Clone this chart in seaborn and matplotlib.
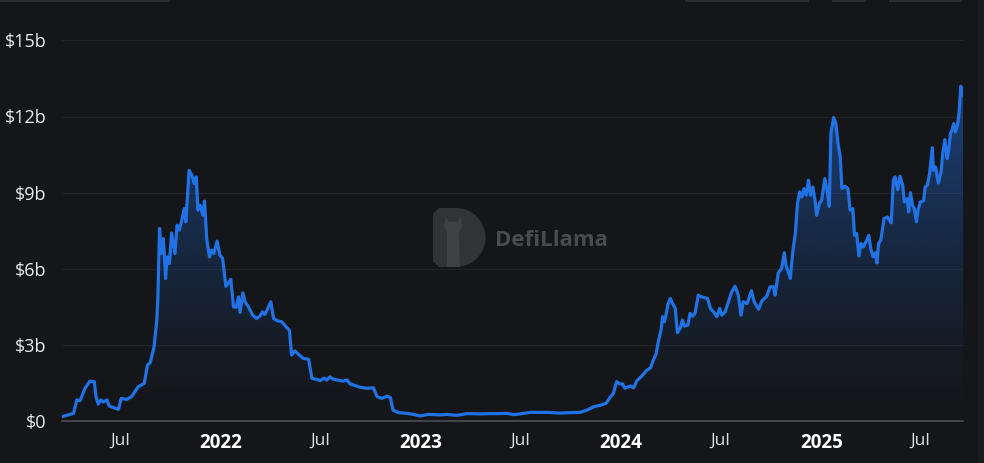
import numpy as np
import pandas as pd
import matplotlib
matplotlib.use("Agg")
import matplotlib.pyplot as plt
import matplotlib.dates as mdates
from matplotlib.patches import Rectangle, PathPatch
from matplotlib.path import Path
import seaborn as sns

# ---------------- data ----------------
start_date = "2021-03-17"
day_offsets = [
    0, 21, 27, 33, 42, 51, 59, 62, 66, 71,
    75, 82, 86, 103, 108, 118, 127, 139, 150, 156,
    161, 168, 173, 175, 178, 181, 185, 189, 192, 196,
    200, 206, 210, 214, 218, 223, 226, 232, 237, 241,
    245, 248, 252, 257, 260, 264, 269, 273, 277, 283,
    288, 293, 299, 303, 308, 313, 318, 322, 325, 330,
    334, 340, 348, 355, 361, 366, 370, 374, 381, 386,
    393, 401, 409, 415, 419, 425, 431, 440, 450, 456,
    465, 471, 478, 483, 489, 495, 504, 513, 520, 526,
    544, 556, 568, 575, 583, 593, 599, 604, 614, 629,
    641, 653, 669, 690, 702, 720, 739, 763, 781, 793,
    812, 824, 836, 854, 885, 909, 927, 945, 958, 970,
    982, 993, 1000, 1006, 1012, 1018, 1023, 1027, 1037, 1043,
    1049, 1058, 1066, 1074, 1079, 1084, 1088, 1093, 1096, 1099,
    1102, 1106, 1110, 1114, 1119, 1123, 1128, 1132, 1136, 1142,
    1146, 1151, 1155, 1161, 1167, 1178, 1183, 1189, 1195, 1200,
    1204, 1210, 1216, 1222, 1228, 1234, 1239, 1243, 1250, 1258,
    1263, 1271, 1277, 1286, 1292, 1298, 1301, 1307, 1313, 1318,
    1321, 1329, 1333, 1338, 1342, 1346, 1350, 1354, 1358, 1362,
    1366, 1370, 1374, 1377, 1382, 1386, 1392, 1396, 1400, 1403,
    1408, 1412, 1416, 1420, 1423, 1429, 1434, 1438, 1443, 1446,
    1450, 1454, 1458, 1462, 1467, 1472, 1476, 1480, 1484, 1487,
    1490, 1494, 1500, 1506, 1513, 1517, 1520, 1525, 1529, 1534,
    1537, 1542, 1545, 1548, 1552, 1555, 1559, 1562, 1566, 1572,
    1575, 1579, 1583, 1588, 1590, 1594, 1599, 1604, 1607, 1611,
    1615, 1618, 1621, 1624, 1627, 1630, 1634, 1637, 1640, 1644,
]
tvl_billions = [
    0.17, 0.30, 0.83, 0.80, 1.29, 1.57, 1.55, 0.96, 0.67, 0.83,
    0.75, 0.83, 0.59, 0.46, 0.89, 0.85, 0.96, 1.35, 1.48, 2.20,
    2.30, 2.93, 3.98, 4.89, 7.59, 6.60, 7.19, 5.62, 6.47, 6.21,
    7.41, 6.60, 7.72, 7.52, 7.85, 8.37, 7.85, 9.88, 9.69, 9.36,
    9.62, 8.31, 8.50, 8.11, 8.67, 7.19, 6.47, 6.73, 6.60, 7.09,
    6.54, 6.41, 5.31, 5.42, 5.58, 4.50, 4.48, 4.89, 4.28, 5.05,
    4.70, 4.50, 4.17, 4.04, 4.13, 4.30, 4.20, 4.37, 4.70, 4.04,
    3.95, 3.91, 3.71, 3.58, 2.60, 2.76, 2.64, 2.47, 2.43, 1.68,
    1.64, 1.59, 1.69, 1.61, 1.74, 1.65, 1.61, 1.57, 1.62, 1.46,
    1.33, 1.29, 1.31, 0.96, 0.89, 0.98, 0.93, 0.43, 0.33, 0.30,
    0.26, 0.20, 0.26, 0.24, 0.26, 0.22, 0.29, 0.28, 0.29, 0.29,
    0.30, 0.25, 0.28, 0.34, 0.34, 0.31, 0.33, 0.34, 0.43, 0.56,
    0.62, 0.70, 0.93, 1.09, 1.55, 1.46, 1.46, 1.29, 1.38, 1.31,
    1.59, 1.77, 1.98, 2.10, 2.40, 2.64, 3.12, 3.58, 4.11, 3.91,
    4.17, 4.63, 4.83, 4.63, 4.44, 3.48, 3.65, 3.98, 3.74, 3.78,
    4.24, 4.13, 4.24, 4.96, 4.89, 4.83, 4.44, 4.30, 4.11, 4.44,
    4.17, 4.30, 4.70, 5.09, 5.31, 4.96, 4.17, 4.70, 4.63, 5.13,
    4.70, 4.40, 4.73, 4.92, 5.29, 5.29, 4.96, 5.84, 6.01, 6.63,
    6.14, 5.62, 6.60, 7.39, 8.57, 9.03, 8.83, 9.16, 8.90, 9.49,
    8.90, 9.22, 8.70, 8.11, 8.57, 8.70, 9.55, 9.09, 8.46, 11.33,
    11.96, 11.72, 10.93, 10.41, 9.16, 9.25, 9.16, 8.31, 8.37, 7.32,
    7.39, 6.50, 7.00, 6.86, 7.06, 7.32, 6.76, 6.47, 6.63, 6.23,
    7.00, 7.13, 7.98, 8.04, 7.81, 9.49, 9.62, 9.12, 9.65, 9.29,
    8.63, 8.76, 8.24, 9.00, 8.50, 8.37, 7.85, 8.31, 8.63, 8.67,
    9.22, 9.29, 9.75, 10.77, 9.88, 10.01, 9.38, 9.81, 10.54, 11.09,
    10.34, 10.67, 11.33, 11.46, 11.72, 11.39, 11.65, 12.18, 13.19, 12.83,
]
tick_dates = ["2021-07-01", "2022-01-01", "2022-07-01", "2023-01-01", "2023-07-01",
              "2024-01-01", "2024-07-01", "2025-01-01", "2025-07-01"]
tick_labels = ["Jul", "2022", "Jul", "2023", "Jul", "2024", "Jul", "2025", "Jul"]
y_ticks = [0, 3, 6, 9, 12, 15]
y_tick_labels = ["\\$0", "\\$3b", "\\$6b", "\\$9b", "\\$12b", "\\$15b"]

df = pd.DataFrame({
    "date": pd.Timestamp(start_date) + pd.to_timedelta(day_offsets, unit="D"),
    "tvl": tvl_billions,
})

# ---------------- style ----------------
BG = "#151619"
LINE = "#2172E5"
sns.set_theme(style="dark")
plt.rcParams["font.family"] = ["Open Sans", "DejaVu Sans"]

W, H = 984, 463
fig = plt.figure(figsize=(W / 100, H / 100), dpi=100, facecolor=BG)
ax = fig.add_axes([62 / W, 42 / H, (963 - 62) / W, 406 / H])
ax.set_facecolor(BG)

def px(x, y):
    return (x / W, 1 - y / H)

# decorative UI edges from the page
fig.patches.append(Rectangle(px(0, 2), 170 / W, 2 / H, transform=fig.transFigure,
                             facecolor="#2a2b2f", edgecolor="none"))
for x0, x1 in [(685, 809), (832, 866), (889, 962)]:
    fig.patches.append(Rectangle(px(x0, 2), (x1 - x0) / W, 2 / H, transform=fig.transFigure,
                                 facecolor="#2a2b2f", edgecolor="none"))
fig.patches.append(Rectangle(px(978, H), 6 / W, 1, transform=fig.transFigure,
                             facecolor="#1b1c1f", edgecolor="none"))

# watermark
theta = np.linspace(-np.pi / 2, np.pi / 2, 40)
cx, cy, r = 456, 237.5, 29.5
arc = [(cx + r * np.cos(t), cy + r * np.sin(t)) for t in theta]
pts = [(439, 208)] + arc + [(439, 267), (433, 261), (433, 214), (439, 208)]
pts_fig = [px(x, y) for x, y in pts]
fig.patches.append(PathPatch(Path(pts_fig), transform=fig.transFigure,
                             facecolor="#323335", edgecolor="none", zorder=0.5))
llama = [(447, 267), (447, 232), (444, 226), (446, 217), (449, 222), (457, 222),
         (461, 216), (462, 226), (459, 232), (460, 267)]
fig.patches.append(PathPatch(Path([px(x, y) for x, y in llama]), transform=fig.transFigure,
                             facecolor="#404143", edgecolor="none", zorder=0.6))
fig.text(495 / W, 1 - 240 / H, "DefiLlama", color="#4a4b4d", fontsize=16,
         fontweight="bold", ha="left", va="center", family=["Open Sans", "DejaVu Sans"],
         zorder=0.7)

# grid
for yv in y_ticks[1:]:
    ax.axhline(yv, color="#222327", lw=0.8, zorder=0)

# gradient fill under the line
x_num = mdates.date2num(df["date"])
poly = ax.fill_between(x_num, df["tvl"], 0, facecolor="none", edgecolor="none")
top = 13.3
n = 256
frac = np.linspace(1, 0, n) ** 1.3
rgba = np.zeros((n, 1, 4))
rgba[..., 0] = 33 / 255
rgba[..., 1] = 114 / 255
rgba[..., 2] = 229 / 255
rgba[..., 3] = (0.48 * frac)[:, None]
img = ax.imshow(rgba, extent=[x_num.min(), x_num.max(), 0, top], aspect="auto",
                origin="upper", zorder=1, interpolation="bilinear")
img.set_clip_path(poly.get_paths()[0], transform=ax.transData)

sns.lineplot(x=x_num, y=df["tvl"].values, ax=ax, color=LINE, lw=2.3, zorder=3)

ax.set_xlim(x_num.min(), x_num.max())
ax.set_ylim(0, 16)

# axes
for s in ["top", "right", "left"]:
    ax.spines[s].set_visible(False)
ax.spines["bottom"].set_color("#4e4f53")
ax.spines["bottom"].set_linewidth(1.2)
ax.grid(False)

ax.set_yticks(y_ticks)
ax.set_yticklabels(y_tick_labels)
ax.tick_params(axis="y", length=0, pad=11, labelsize=13, labelcolor="#ececec")

ax.set_xticks(mdates.date2num(pd.to_datetime(tick_dates)))
ax.set_xticklabels(tick_labels)
ax.tick_params(axis="x", length=5, width=1.2, color="#9a9b9e", pad=3.5,
               labelsize=12.5, labelcolor="#e0e0e0", direction="out")
for lab in ax.get_xticklabels():
    if lab.get_text() != "Jul":
        lab.set_fontweight("bold")
        lab.set_color("#ffffff")
        lab.set_fontsize(13.5)

ax.set_xlabel("")
ax.set_ylabel("")

fig.savefig("out.png", dpi=100, facecolor=BG)
